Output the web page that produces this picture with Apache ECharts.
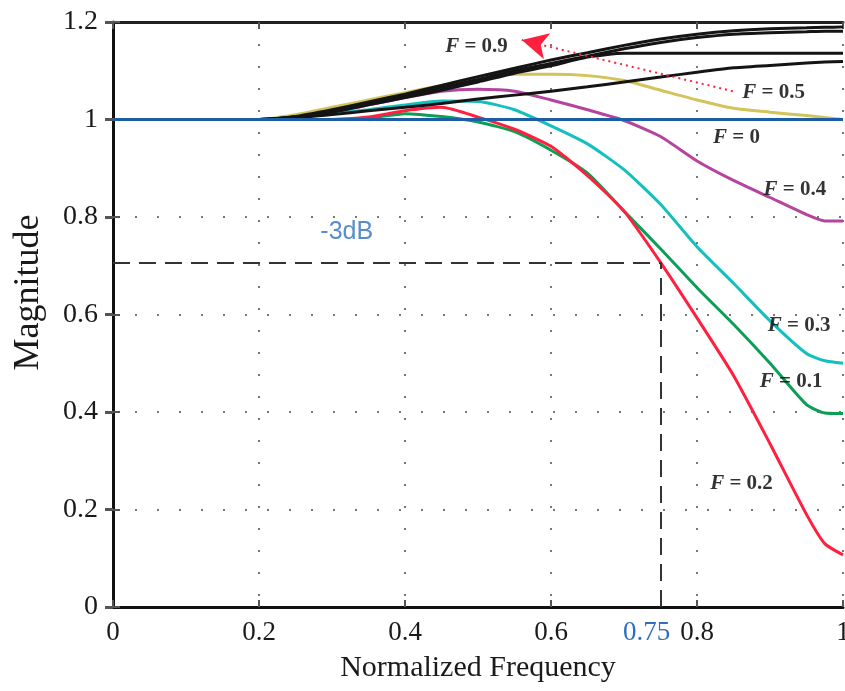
<!DOCTYPE html>
<html>
<head>
<meta charset="utf-8">
<script src="https://cdn.jsdelivr.net/npm/echarts@6/dist/echarts.min.js"></script>
<style>
html,body{margin:0;padding:0;background:#fff;}
#chart{width:845px;height:691px;}
</style>
</head>
<body>
<div id="chart"></div>
<script>
// ---- data ----
const freq = [0,0.05,0.1,0.15,0.2,0.25,0.3,0.35,0.4,0.45,0.5,0.55,0.6,0.65,0.7,0.75,0.8,0.85,0.9,0.95,0.975,1.0];
const xTickLabels = [0,0.2,0.4,0.6,0.75,0.8,1];
const yTickLabels = [0,0.2,0.4,0.6,0.8,1,1.2];

const magF0  = [1,1,1,1,1,1,1,1,1,1,1,1,1,1,1,1,1,1,1,1,1,1];
const magF01 = [1,1,1,1,1,1,1,1.003,1.012,1.006,0.995,0.975,0.937,0.89,0.812,0.735,0.655,0.58,0.5,0.415,0.398,0.397];
const magF02 = [1,1,1,1,1,1,1,1.005,1.018,1.025,1.005,0.98,0.945,0.885,0.812,0.707,0.593,0.475,0.335,0.19,0.13,0.107];
const magF03 = [1,1,1,1,1,1.005,1.012,1.02,1.03,1.038,1.037,1.02,0.987,0.95,0.897,0.826,0.739,0.664,0.587,0.52,0.505,0.5];
const magF04 = [1,1,1,1,1,1.005,1.015,1.03,1.045,1.058,1.062,1.058,1.04,1.02,0.998,0.965,0.915,0.875,0.84,0.805,0.792,0.792];
const magF05 = [1,1,1,1,1,1.01,1.025,1.04,1.055,1.07,1.085,1.093,1.093,1.09,1.08,1.06,1.04,1.023,1.015,1.008,1.004,1.0];
const magF06 = [1,1,1,1,1,1.003,1.01,1.018,1.025,1.033,1.042,1.05,1.058,1.067,1.077,1.087,1.097,1.106,1.111,1.116,1.118,1.119];
const magF07 = [1,1,1,1,1,1.005,1.015,1.03,1.045,1.06,1.077,1.095,1.11,1.128,1.136,1.136,1.136,1.136,1.136,1.136,1.136,1.136];
const magF08 = [1,1,1,1,1,1.005,1.017,1.033,1.048,1.065,1.082,1.1,1.115,1.13,1.145,1.158,1.168,1.175,1.178,1.18,1.181,1.181];
const magF09 = [1,1,1,1,1,1.006,1.02,1.036,1.052,1.07,1.088,1.105,1.122,1.137,1.152,1.165,1.175,1.182,1.186,1.188,1.189,1.19];

const cutoffFreq = 0.75;
const cutoffMag = 0.707;

// annotation texts and anchors (data coords)
const curveLabels = [
  {text:'0.9', at:[0.455,1.149]},
  {text:'0.5', at:[0.862,1.056]},
  {text:'0',   at:[0.822,0.963]},
  {text:'0.4', at:[0.891,0.857]},
  {text:'0.3', at:[0.897,0.578]},
  {text:'0.1', at:[0.886,0.462]},
  {text:'0.2', at:[0.818,0.254]}
];

const serif = '"Liberation Serif","Times New Roman",serif';

function pairs(ys){ return freq.map((x,i)=>[x, ys[i]]); }

function lineSeries(name, ys, color, z){
  return {
    name, type:'line', data:pairs(ys), showSymbol:false, symbol:'none',
    lineStyle:{color, width:3}, z: z||2, animation:false, smooth:0.2
  };
}

const series = [
  lineSeries('F = 0.5', magF05, '#d2c35a'),
  lineSeries('F = 0.4', magF04, '#b4449e'),
  lineSeries('F = 0.3', magF03, '#14bfbf'),
  lineSeries('F = 0.1', magF01, '#0b9e55'),
  lineSeries('F = 0.2', magF02, '#ff1f3f'),
  lineSeries('F = 0.6', magF06, '#141414'),
  lineSeries('F = 0.7', magF07, '#141414'),
  lineSeries('F = 0.8', magF08, '#141414'),
  lineSeries('F = 0.9', magF09, '#141414'),
  Object.assign(lineSeries('F = 0', magF0, '#1c5ea6', 3), {
    markLine:{
      silent:true, symbol:['none','none'], animation:false,
      lineStyle:{color:'#333', width:2, type:[17,9]},
      label:{show:false},
      data:[
        [{coord:[0,cutoffMag]},{coord:[cutoffFreq,cutoffMag]}],
        [{coord:[cutoffFreq,0]},{coord:[cutoffFreq,cutoffMag]}]
      ]
    }
  }),
  {
    name:'arrow', type:'line', data:[], z:5,
    markLine:{
      silent:true, animation:false,
      symbol:['none','arrow'], symbolSize:[20,26],
      lineStyle:{color:'#ff2040', width:2, type:[2,4]},
      label:{show:false},
      data:[[{coord:[0.849,1.058]},{coord:[0.560,1.163]}]]
    }
  },
  {
    name:'labels', type:'scatter', symbolSize:0, z:6, silent:true, animation:false,
    data: curveLabels.map(l=>({value:l.at, txt:l.text})),
    label:{
      show:true, position:'right', distance:0,
      formatter:p=>'{f|F}{n| = '+p.data.txt+'}',
      rich:{
        f:{fontFamily:serif, fontStyle:'italic', fontWeight:'bold', fontSize:21, color:'#000'},
        n:{fontFamily:serif, fontWeight:'bold', fontSize:21, color:'#000'}
      }
    }
  },
  {
    name:'db', type:'scatter', symbolSize:0, z:6, silent:true, animation:false,
    data:[[0.284,0.769]],
    label:{show:true, position:'right', distance:0, formatter:'-3dB',
      fontFamily:'"Liberation Sans",Arial,sans-serif', fontSize:25, color:'#2f6fbd'}
  }
];

const option = {
  backgroundColor:'#fff',
  animation:false,
  grid:{left:113, right:2, top:22, bottom:84, containLabel:false, outerBoundsMode:'none'},
  xAxis:[
    {
      type:'value', min:0, max:1, interval:0.2, position:'bottom',
      name:'Normalized Frequency', nameLocation:'middle', nameGap:46,
      nameTextStyle:{fontFamily:serif, fontSize:30, color:'#1a1a1a'},
      axisLine:{show:true, onZero:false, lineStyle:{color:'#111', width:3}},
      axisTick:{show:true, inside:true, length:7, lineStyle:{color:'#555', width:2}},
      axisLabel:{
        customValues:xTickLabels, hideOverlap:false,
        fontFamily:serif, fontSize:27, color:'#1a1a1a', margin:12,
        formatter:v=> (Math.abs(v-cutoffFreq)<1e-9 ? '{b|'+v+'}' : String(v)),
        rich:{b:{fontFamily:serif, fontSize:27, color:'#2f6fbd', padding:[0,28,0,0]}}
      },
      splitLine:{show:true, lineStyle:{color:'#777', width:2, type:[2,20]}}
    },
    {
      type:'value', min:0, max:1, interval:0.2, position:'top',
      axisLine:{show:true, onZero:false, lineStyle:{color:'#222', width:3}},
      axisTick:{show:true, inside:true, length:7, lineStyle:{color:'#555', width:2}},
      axisLabel:{show:false}, splitLine:{show:false}
    }
  ],
  yAxis:[
    {
      type:'value', min:0, max:1.2, interval:0.2, position:'left',
      name:'Magnitude', nameLocation:'middle', nameGap:66, nameRotate:90,
      nameTextStyle:{fontFamily:serif, fontSize:36, color:'#1a1a1a', padding:[0,0,0,44]},
      axisLine:{show:true, onZero:false, lineStyle:{color:'#111', width:3}},
      axisTick:{show:true, inside:true, length:7, lineStyle:{color:'#555', width:2}},
      axisLabel:{fontFamily:serif, fontSize:28, color:'#1a1a1a', margin:15,
        formatter:v=>String(Math.round(v*10)/10)},
      splitLine:{show:true, lineStyle:{color:'#777', width:2, type:[2,20]}}
    },
    {
      type:'value', min:0, max:1.2, interval:0.2, position:'right',
      axisLine:{show:false},
      axisTick:{show:true, inside:true, length:8, lineStyle:{color:'#555', width:3}},
      axisLabel:{show:false}, splitLine:{show:false}
    }
  ],
  series
};

const chart = echarts.init(document.getElementById('chart'), null, {renderer:'canvas'});
chart.setOption(option);
</script>
</body>
</html>
